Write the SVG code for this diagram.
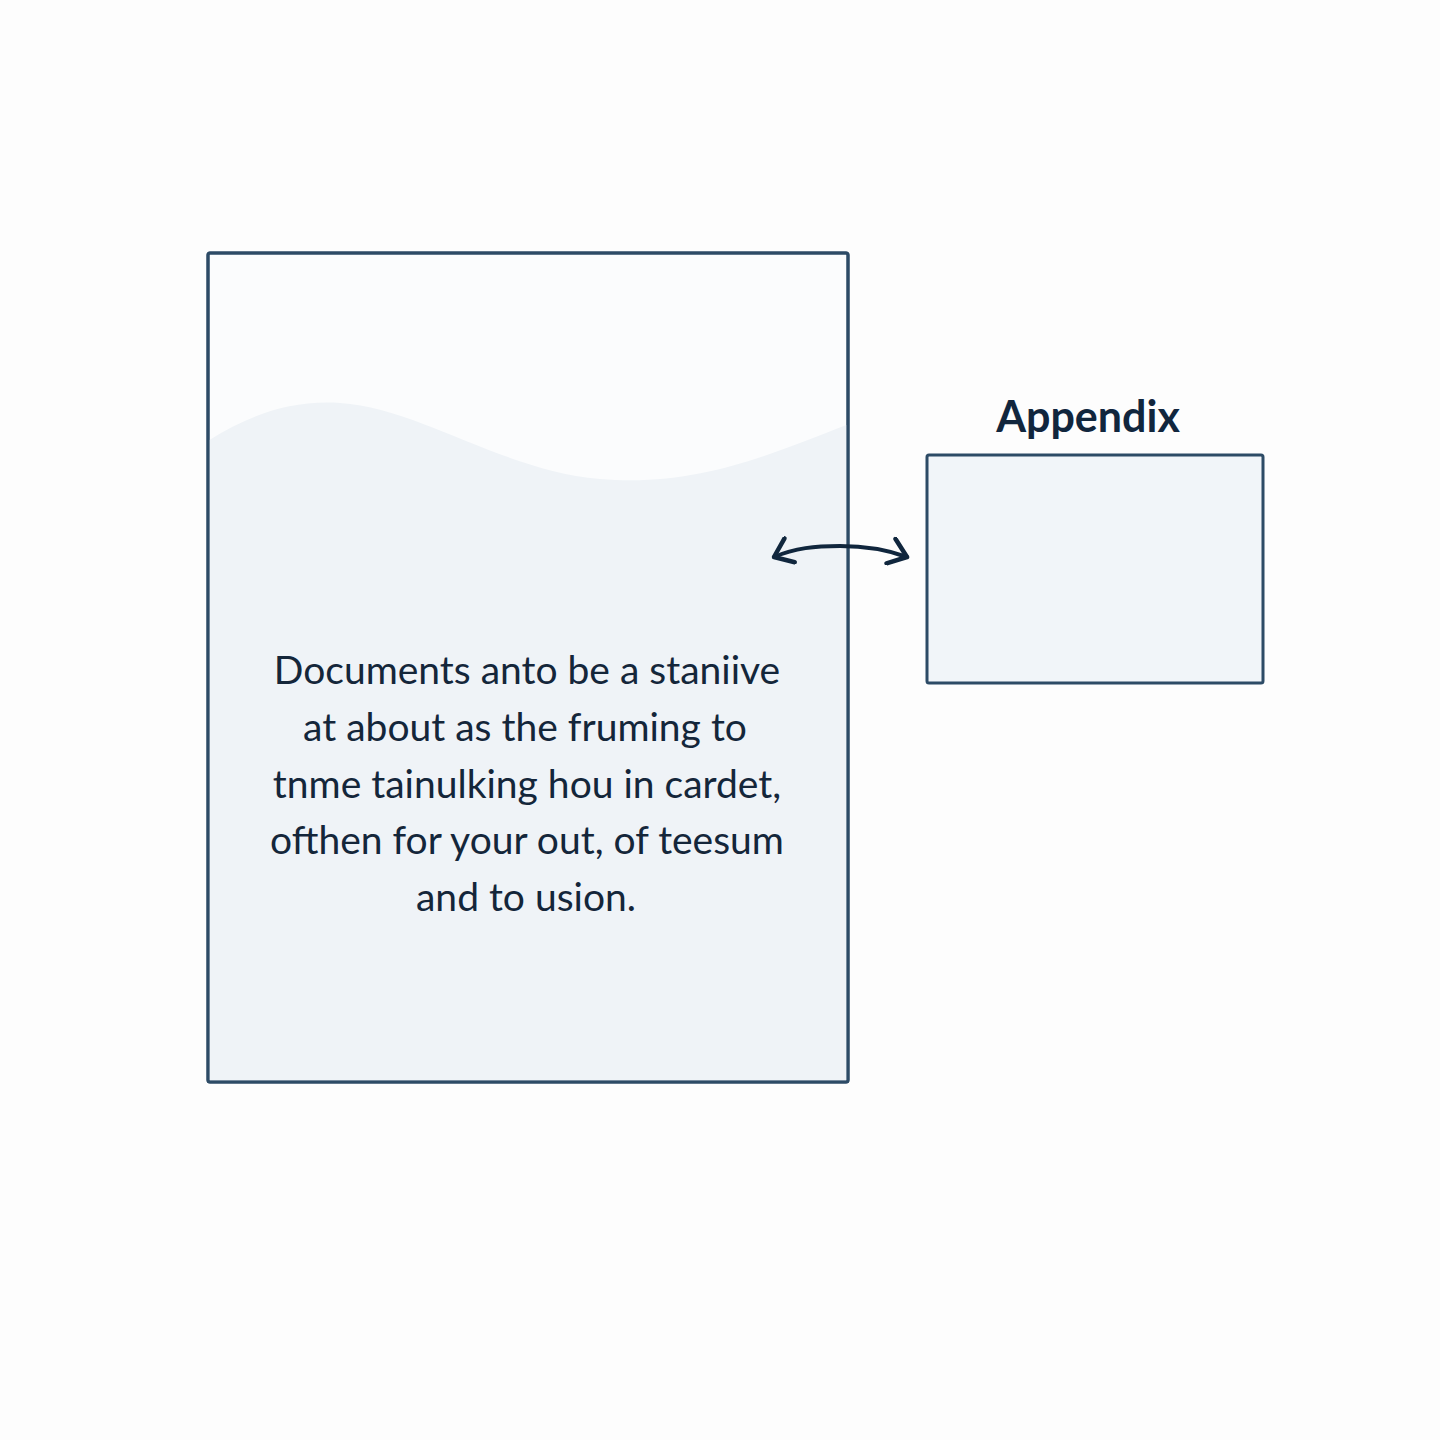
<svg xmlns="http://www.w3.org/2000/svg" width="1440" height="1440" viewBox="0 0 1440 1440">
<defs>
<style>
.box{stroke:#2d4b66;stroke-width:3;}
.body{font-family:Lato,"Open Sans",sans-serif;font-size:39px;fill:#14263a;text-anchor:middle;}
.title{font-family:Lato,"Open Sans",sans-serif;font-size:43px;font-weight:bold;fill:#11263d;text-anchor:middle;}
.conn{fill:none;stroke:#10263d;stroke-width:4;stroke-linecap:round;stroke-linejoin:round;}
</style>
<marker id="head" viewBox="0 0 24 30" refX="21" refY="15" markerWidth="24" markerHeight="30" markerUnits="userSpaceOnUse" orient="auto-start-reverse">
<path d="M4,2 L21,15 L4,28" fill="none" stroke="#10263d" stroke-width="4.5" stroke-linecap="round" stroke-linejoin="round"/>
</marker>
</defs>
<rect width="1440" height="1440" fill="#fdfdfd"/>
<g id="document">
<rect x="208" y="253" width="640" height="829" rx="2" fill="#fbfcfd" class="box"/>
<path d="M209.5,440 C250,415 290,400 340,403 C420,408 500,470 600,479 C700,488 780,450 846.5,425 L846.5,1080.5 L209.5,1080.5 Z" fill="#eff3f7"/>
<rect x="208" y="253" width="640" height="829" rx="2" fill="none" class="box"/>
<text class="body" x="527" y="684">Documents anto be a staniive</text>
<text class="body" x="525" y="741">at about as the fruming to</text>
<text class="body" x="527" y="798">tnme tainulking hou in cardet,</text>
<text class="body" x="527" y="854">ofthen for your out, of teesum</text>
<text class="body" x="526" y="911">and to usion.</text>
</g>
<g id="appendix">
<text class="title" x="1088" y="432">Appendix</text>
<rect x="927" y="455" width="336" height="228" rx="2" fill="#f1f5f9" class="box"/>
</g>
<g id="connectors">
<path class="conn" d="M774,557 C795,548 815,546 840,546 C865,546 888,550 907,557" marker-start="url(#head)" marker-end="url(#head)"/>
</g>
</svg>
